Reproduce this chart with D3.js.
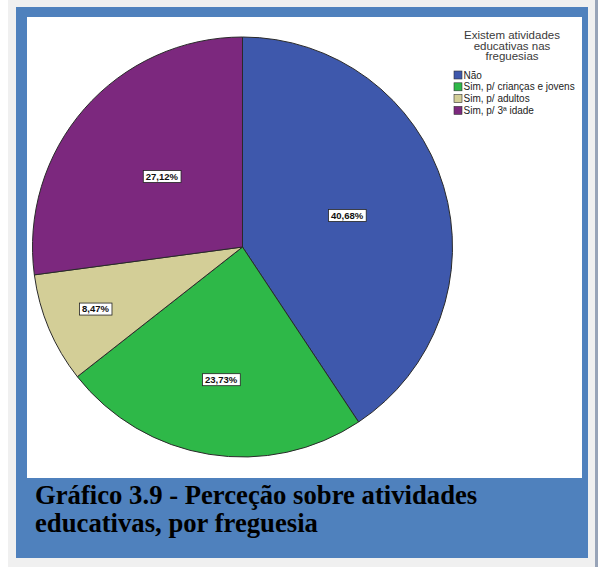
<!DOCTYPE html>
<html>
<head>
<meta charset="utf-8">
<script src="https://cdn.jsdelivr.net/npm/d3@7"></script>
<style>
  body { margin: 0; background: #ffffff; }
  svg { display: block; }
</style>
</head>
<body>
<div id="chart"></div>
<script>
// data (counts of freguesias, 59 in total)
var categories = ["Não", "Sim, p/ crianças e jovens", "Sim, p/ adultos", "Sim, p/ 3ª idade"]
var counts = [24, 14, 5, 16]
var colors = ["#3e58ac", "#2eb848", "#d3ce97", "#7c287e"]
var legendTitle = ["Existem atividades", "educativas nas", "freguesias"]
var caption = ["Gráfico 3.9 - Perceção sobre atividades", "educativas, por freguesia"]

// where SPSS dropped each label, as a fraction of the radius
var labelR = [0.52, 0.64, 0.76, 0.51]

var width = 598, height = 567
var total = d3.sum(counts)

var svg = d3.select("#chart")
  .append("svg")
    .attr("width", width)
    .attr("height", height)

// page background and the blue frame round the figure
svg.append("rect").attr("x", 8).attr("y", 0).attr("width", width - 8).attr("height", height).attr("fill", "#f0f0f0")
svg.append("rect").attr("x", 595).attr("y", 0).attr("width", 3).attr("height", height).attr("fill", "#98a4b8")
svg.append("rect").attr("x", 16).attr("y", 7).attr("width", 572).attr("height", 551).attr("fill", "#4f81bd")
svg.append("rect").attr("x", 27).attr("y", 17).attr("width", 555).attr("height", 461).attr("fill", "#ffffff")

// pie
var cx = 242.5, cy = 247, radius = 210

var pie = d3.pie()
  .sort(null)
  .value(function(d) { return d.value })

var data_ready = pie(categories.map(function(c, i) { return {key: c, value: counts[i], i: i} }))

var arcGenerator = d3.arc()
  .innerRadius(0)
  .outerRadius(radius)

var g = svg.append("g")
  .attr("transform", "translate(" + cx + "," + cy + ")")

g.selectAll("path")
  .data(data_ready)
  .enter()
  .append("path")
    .attr("d", arcGenerator)
    .attr("fill", function(d) { return colors[d.data.i] })
    .attr("stroke", "#2a2a2a")
    .attr("stroke-width", 1)
    .attr("stroke-linejoin", "round")

// percentage labels in white boxes
var labels = g.selectAll("g.lab")
  .data(data_ready)
  .enter()
  .append("g")
    .attr("class", "lab")
    .attr("transform", function(d) {
      var r = radius * labelR[d.data.i]
      var a = (d.startAngle + d.endAngle) / 2
      return "translate(" + (Math.sin(a) * r) + "," + (-Math.cos(a) * r) + ")"
    })

labels.append("text")
  .text(function(d) { return (d.data.value * 100 / total).toFixed(2).replace(".", ",") + "%" })
  .attr("text-anchor", "middle")
  .attr("dy", "0.35em")
  .style("font-family", "Arial, 'Liberation Sans', sans-serif")
  .style("font-size", "9.5px")
  .style("font-weight", 700)
  .attr("fill", "#111")

labels.each(function() {
  var t = d3.select(this).select("text")
  var b = t.node().getBBox()
  d3.select(this).insert("rect", "text")
    .attr("x", b.x - 2.5)
    .attr("y", -6)
    .attr("width", b.width + 5)
    .attr("height", 12)
    .attr("fill", "#ffffff")
    .attr("stroke", "#222")
    .attr("stroke-width", 0.8)
})

// legend
var legend = svg.append("g")
  .style("font-family", "Arial, 'Liberation Sans', sans-serif")

legend.selectAll("text.title")
  .data(legendTitle)
  .enter()
  .append("text")
    .attr("class", "title")
    .attr("x", 512)
    .attr("y", function(d, i) { return 39 + i * 10.5 })
    .attr("text-anchor", "middle")
    .style("font-size", "11.5px")
    .attr("fill", "#3a3a3a")
    .text(function(d) { return d })

var items = legend.selectAll("g.item")
  .data(categories)
  .enter()
  .append("g")
    .attr("class", "item")
    .attr("transform", function(d, i) { return "translate(454," + (75 + i * 11.8) + ")" })

items.append("rect")
  .attr("x", 0)
  .attr("y", -4)
  .attr("width", 8)
  .attr("height", 8)
  .attr("fill", function(d, i) { return colors[i] })
  .attr("stroke", "#333")
  .attr("stroke-width", 0.6)

items.append("text")
  .attr("x", 9.5)
  .attr("dy", "0.35em")
  .style("font-size", "10px")
  .attr("fill", "#222")
  .text(function(d) { return d })

// caption inside the frame
svg.selectAll("text.caption")
  .data(caption)
  .enter()
  .append("text")
    .attr("class", "caption")
    .attr("x", 35)
    .attr("y", function(d, i) { return 504 + i * 28 })
    .style("font-family", "'Liberation Serif', 'Times New Roman', serif")
    .style("font-size", "26.7px")
    .style("font-weight", 700)
    .attr("fill", "#000")
    .text(function(d) { return d })
</script>
</body>
</html>
